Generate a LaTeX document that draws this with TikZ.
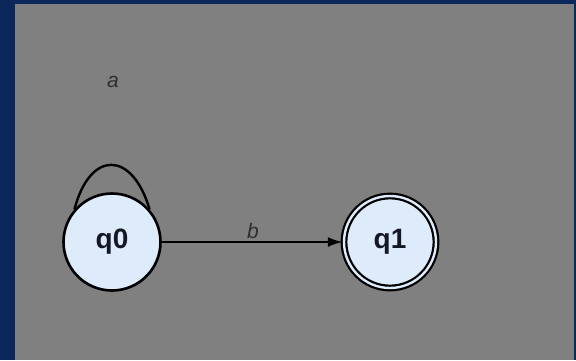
\documentclass[tikz,border=0pt]{standalone}
\usepackage{fontspec}
\setmainfont{Liberation Sans}
\usetikzlibrary{arrows.meta}
\definecolor{frame}{HTML}{0C2759}
\definecolor{panel}{HTML}{808080}
\definecolor{statefill}{HTML}{DDEBFA}
\definecolor{labelgray}{HTML}{2E2E2E}
\definecolor{statetext}{HTML}{141824}
\tikzset{
  state/.style={circle, draw=black, line width=2.6pt, fill=statefill, text=statetext,
    minimum size=97pt, inner sep=0pt, font=\fontsize{28}{28}\selectfont\bfseries},
  accepting/.style={double=statefill, double distance=2.4pt, line width=2.2pt,
    minimum size=92pt},
  trans/.style={draw=black, line width=2.4pt},
  symlabel/.style={font=\fontsize{21}{21}\selectfont\itshape, text=labelgray}
}
\begin{document}
\begin{tikzpicture}[x=1pt, y=-1pt]
  \useasboundingbox (0,0) rectangle (576,360);
  \fill[frame] (0,0) rectangle (576,360);
  \fill[panel] (15,4) rectangle (574,360);

  \node[state] (q0) at (112,242) {q0};
  \node[state, accepting] (q1) at (390,242) {q1};

  % self-loop on q0
  \draw[trans] (q0.139) .. controls (90,150) and (132,150) .. (q0.41);
  \node[symlabel] (la) at (113,82) {a};

  % transition q0 -> q1
  \draw[trans, -{Latex[length=15pt,width=10pt]}] (q0) -- (q1);
  \node[symlabel] (lb) at (253,231) {b};
\end{tikzpicture}
\end{document}
